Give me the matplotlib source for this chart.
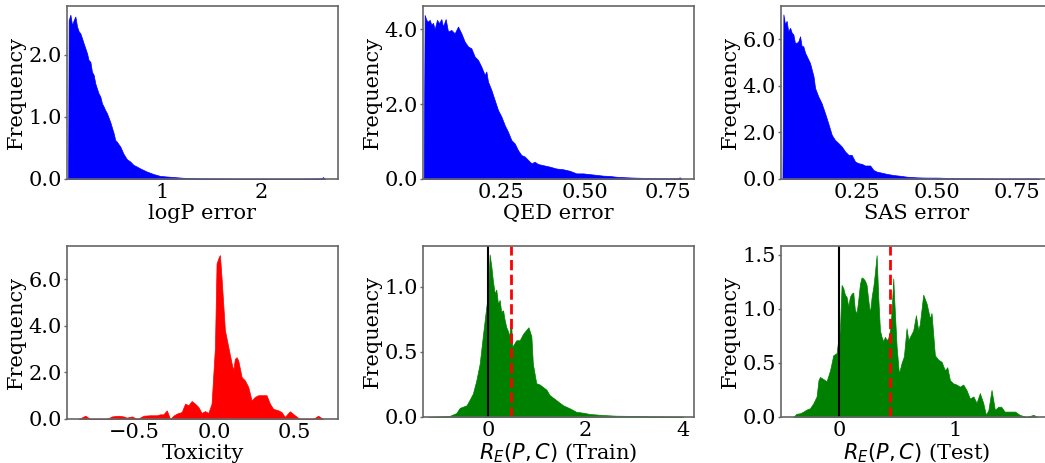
import matplotlib
matplotlib.use("Agg")
import matplotlib.pyplot as plt
from matplotlib.ticker import FormatStrFormatter

plt.rcParams['font.family'] = 'DejaVu Serif'
plt.rcParams['font.size'] = 15

# logP error distribution
logp_x = [0.054, 0.06, 0.077, 0.094, 0.11, 0.127, 0.144, 0.161, 0.177, 0.194, 0.21, 0.227,
          0.244, 0.26, 0.278, 0.294, 0.311, 0.328, 0.344, 0.361, 0.378, 0.395, 0.411, 0.428,
          0.445, 0.478, 0.512, 0.528, 0.545, 0.58, 0.61, 0.645, 0.68, 0.71, 0.746, 0.78,
          0.846, 0.913, 0.98, 1.047, 1.21, 1.38, 1.72, 2.38, 2.6, 2.62, 2.64]
logp_y = [0.0, 2.56, 2.65, 2.48, 2.56, 2.62, 2.46, 2.38, 2.35, 2.27, 2.19, 2.11,
          2.03, 1.92, 1.89, 1.73, 1.68, 1.54, 1.46, 1.38, 1.33, 1.22, 1.17, 1.11,
          1.06, 0.92, 0.74, 0.63, 0.60, 0.52, 0.41, 0.32, 0.28, 0.23, 0.20, 0.17,
          0.12, 0.08, 0.05, 0.04, 0.02, 0.01, 0.005, 0.005, 0.01, 0.03, 0.0]

# QED error distribution
qed_x = [0.017, 0.02, 0.025, 0.03, 0.035, 0.04, 0.045, 0.05, 0.057, 0.063, 0.07, 0.075,
         0.083, 0.09, 0.10, 0.11, 0.12, 0.13, 0.14, 0.15, 0.16, 0.17, 0.18, 0.19, 0.20,
         0.205, 0.21, 0.22, 0.23, 0.24, 0.25, 0.26, 0.27, 0.28, 0.29, 0.30, 0.31, 0.32,
         0.33, 0.34, 0.35, 0.36, 0.375, 0.395, 0.415, 0.435, 0.455, 0.475, 0.495, 0.515,
         0.535, 0.555, 0.575, 0.595, 0.625, 0.655, 0.695, 0.745, 0.78, 0.785, 0.79]
qed_y = [0.0, 4.38, 4.25, 4.2, 4.25, 4.12, 4.17, 4.0, 4.25, 4.16, 4.27, 4.07,
         4.27, 3.94, 3.98, 3.89, 4.07, 3.89, 3.67, 3.54, 3.49, 3.27, 3.18, 3.0, 2.78,
         2.87, 2.6, 2.38, 2.11, 1.84, 1.67, 1.44, 1.26, 1.04, 0.95, 0.77, 0.64, 0.6,
         0.51, 0.42, 0.46, 0.4, 0.37, 0.33, 0.28, 0.26, 0.22, 0.15, 0.15, 0.13,
         0.11, 0.09, 0.08, 0.06, 0.045, 0.035, 0.027, 0.018, 0.02, 0.045, 0.0]

# SAS error distribution
sas_x = [0.018, 0.021, 0.026, 0.031, 0.036, 0.042, 0.047, 0.052, 0.057, 0.063, 0.068, 0.073,
         0.078, 0.083, 0.089, 0.094, 0.104, 0.115, 0.12, 0.13, 0.14, 0.151, 0.161, 0.172,
         0.182, 0.193, 0.203, 0.214, 0.224, 0.234, 0.245, 0.255, 0.266, 0.276, 0.292, 0.302,
         0.312, 0.328, 0.344, 0.365, 0.385, 0.406, 0.438, 0.469, 0.5, 0.552, 0.615, 0.698,
         0.81, 0.82]
sas_y = [0.0, 7.08, 6.65, 6.8, 6.36, 6.5, 6.29, 6.22, 5.86, 5.86, 5.93, 6.14,
         5.71, 5.71, 5.42, 5.28, 4.99, 4.42, 3.91, 3.55, 3.27, 2.83, 2.4, 1.9,
         1.68, 1.54, 1.4, 1.18, 1.04, 1.04, 0.75, 0.68, 0.65, 0.58, 0.58, 0.39,
         0.32, 0.27, 0.22, 0.17, 0.14, 0.10, 0.07, 0.06, 0.06, 0.04, 0.03, 0.015,
         0.02, 0.0]

# Toxicity distribution
tox_x = [-0.845, -0.803, -0.772, -0.669, -0.638, -0.596, -0.565, -0.545, -0.513, -0.48,
         -0.44, -0.40, -0.358, -0.337, -0.317, -0.296, -0.275, -0.255, -0.234, -0.203,
         -0.182, -0.161, -0.141, -0.12, -0.1, -0.079, -0.058, -0.037, -0.017, 0.004,
         0.014, 0.029, 0.035, 0.046, 0.066, 0.087, 0.108, 0.118, 0.128, 0.139, 0.149,
         0.17, 0.19, 0.211, 0.232, 0.253, 0.273, 0.304, 0.325, 0.346, 0.366, 0.398,
         0.418, 0.439, 0.47, 0.501, 0.532, 0.615, 0.646, 0.677]
tox_y = [0.0, 0.14, 0.0, 0.0, 0.11, 0.14, 0.11, 0.06, 0.11, 0.0,
         0.14, 0.16, 0.16, 0.2, 0.2, 0.37, 0.0, 0.14, 0.23, 0.3,
         0.66, 0.59, 0.77, 0.66, 0.52, 0.26, 0.34, 0.26, 0.66, 3.09,
         6.68, 6.96, 7.03, 5.96, 3.81, 3.09, 2.38, 2.09, 2.58, 2.65, 2.51,
         1.8, 1.66, 1.38, 0.8, 0.95, 1.02, 1.02, 1.02, 0.66, 0.44, 0.37,
         0.3, 0.09, 0.33, 0.16, 0.0, 0.0, 0.14, 0.0]

# R_E(P, C) on training set
train_x = [-1.23, -0.79, -0.65, -0.58, -0.51, -0.44, -0.38, -0.31, -0.24, -0.17, -0.10,
           -0.034, 0.0, 0.034, 0.068, 0.10, 0.137, 0.17, 0.205, 0.24, 0.27, 0.31, 0.34,
           0.376, 0.41, 0.44, 0.47, 0.5, 0.547, 0.58, 0.65, 0.72, 0.786, 0.83, 0.89,
           0.92, 0.99, 1.06, 1.13, 1.2, 1.26, 1.40, 1.54, 1.675, 1.81, 1.95, 2.09, 2.36,
           2.63, 3.04, 3.3, 4.0]
train_y = [0.0, 0.008, 0.03, 0.07, 0.08, 0.09, 0.13, 0.18, 0.28, 0.41, 0.64,
           0.85, 0.93, 1.25, 1.16, 1.05, 0.95, 0.98, 0.87, 0.9, 0.81, 0.82, 0.75,
           0.69, 0.66, 0.62, 0.75, 0.54, 0.57, 0.59, 0.59, 0.64, 0.67, 0.69, 0.62,
           0.41, 0.26, 0.25, 0.23, 0.21, 0.17, 0.13, 0.09, 0.067, 0.04, 0.033, 0.023, 0.015,
           0.01, 0.008, 0.005, 0.003]
train_mean = 0.47

# R_E(P, C) on test set
test_x = [-0.398, -0.369, -0.34, -0.31, -0.28, -0.254, -0.225, -0.196, -0.18, -0.167,
          -0.138, -0.11, -0.08, -0.052, -0.023, -0.009, 0.006, 0.02, 0.035, 0.049, 0.063,
          0.078, 0.092, 0.107, 0.121, 0.135, 0.15, 0.164, 0.179, 0.193, 0.207, 0.222,
          0.236, 0.251, 0.265, 0.28, 0.294, 0.308, 0.323, 0.337, 0.352, 0.366, 0.38,
          0.395, 0.41, 0.424, 0.438, 0.452, 0.467, 0.481, 0.496, 0.516, 0.539, 0.559,
          0.582, 0.597, 0.611, 0.64, 0.663, 0.683, 0.697, 0.726, 0.755, 0.784, 0.798,
          0.827, 0.856, 0.885, 0.914, 0.934, 0.957, 0.986, 1.014, 1.043, 1.072, 1.1,
          1.13, 1.16, 1.187, 1.216, 1.245, 1.268, 1.29, 1.317, 1.346, 1.375, 1.4, 1.43,
          1.46, 1.52, 1.56, 1.62, 1.68, 1.71]
test_y = [0.0, 0.03, 0.034, 0.05, 0.07, 0.08, 0.126, 0.19, 0.34, 0.37,
          0.35, 0.33, 0.43, 0.57, 0.59, 0.71, 0.8, 1.22, 1.19, 1.13, 1.11,
          1.02, 1.11, 1.14, 1.15, 0.99, 0.96, 1.08, 1.23, 1.29, 1.28, 1.26,
          1.22, 1.08, 0.96, 1.11, 1.2, 1.33, 1.495, 1.11, 0.8, 0.74, 0.7,
          0.74, 0.71, 0.73, 0.8, 0.96, 1.28, 0.96, 0.65, 0.40, 0.5, 0.56,
          0.82, 0.71, 0.74, 0.8, 0.94, 0.8, 0.86, 1.13, 1.05, 0.91, 0.96,
          0.57, 0.53, 0.51, 0.43, 0.46, 0.34, 0.31, 0.30, 0.28, 0.30, 0.25,
          0.17, 0.19, 0.13, 0.22, 0.13, 0.02, 0.065, 0.25, 0.065, 0.095, 0.095, 0.05,
          0.05, 0.05, 0.02, 0.0, 0.02, 0.0]
test_mean = 0.44

fig = plt.figure(figsize=(10.45, 4.63), dpi=100)
W, H = 1045.0, 463.0


def make_ax(l, t, w, h):
    return fig.add_axes([l / W, 1 - (t + h) / H, w / W, h / H])


panels = [
    (make_ax(67, 6, 271, 173), logp_x, logp_y, 'blue', 'logP error', (0.043, 2.77), (0, 2.79), [1, 2]),
    (make_ax(423, 6, 271, 173), qed_x, qed_y, 'blue', 'QED error', (0.015, 0.828), (0, 4.62), [0.25, 0.5, 0.75]),
    (make_ax(781, 6, 271, 173), sas_x, sas_y, 'blue', 'SAS error', (0.0135, 0.86), (0, 7.44), [0.25, 0.5, 0.75]),
    (make_ax(67, 246, 271, 173), tox_x, tox_y, 'red', 'Toxicity', (-0.917, 0.77), (0, 7.42), [-0.5, 0.0, 0.5]),
    (make_ax(423, 246, 271, 171), train_x, train_y, 'green', r'$R_E(P, C)$ (Train)', (-1.333, 4.226), (0, 1.315), [0, 2, 4]),
    (make_ax(781, 246, 271, 171), test_x, test_y, 'green', r'$R_E(P, C)$ (Test)', (-0.504, 1.84), (0, 1.58), [0, 1]),
]

for ax, xs, ys, col, lab, xl, yl, xt in panels:
    ax.fill_between(xs, ys, 0, color=col, lw=0.5)
    ax.set_xlim(*xl)
    ax.set_ylim(*yl)
    ax.set_xticks(xt)
    ax.set_xlabel(lab, labelpad=1)
    ax.set_ylabel('Frequency', labelpad=2)
    ax.yaxis.set_major_formatter(FormatStrFormatter('%.1f'))
    ax.tick_params(axis='x', length=0, pad=3)
    ax.tick_params(axis='y', length=2.5, width=1, color='#666666', pad=1)
    for s in ax.spines.values():
        s.set_color('#666666')
        s.set_linewidth(1.2)

panels[1][0].xaxis.set_major_formatter(FormatStrFormatter('%.2f'))
panels[2][0].xaxis.set_major_formatter(FormatStrFormatter('%.2f'))

for ax, m in [(panels[4][0], train_mean), (panels[5][0], test_mean)]:
    ax.axvline(0, color='black', lw=1.5)
    ax.axvline(m, color='red', lw=2, ls='--')

fig.savefig('out.png', dpi=100)
